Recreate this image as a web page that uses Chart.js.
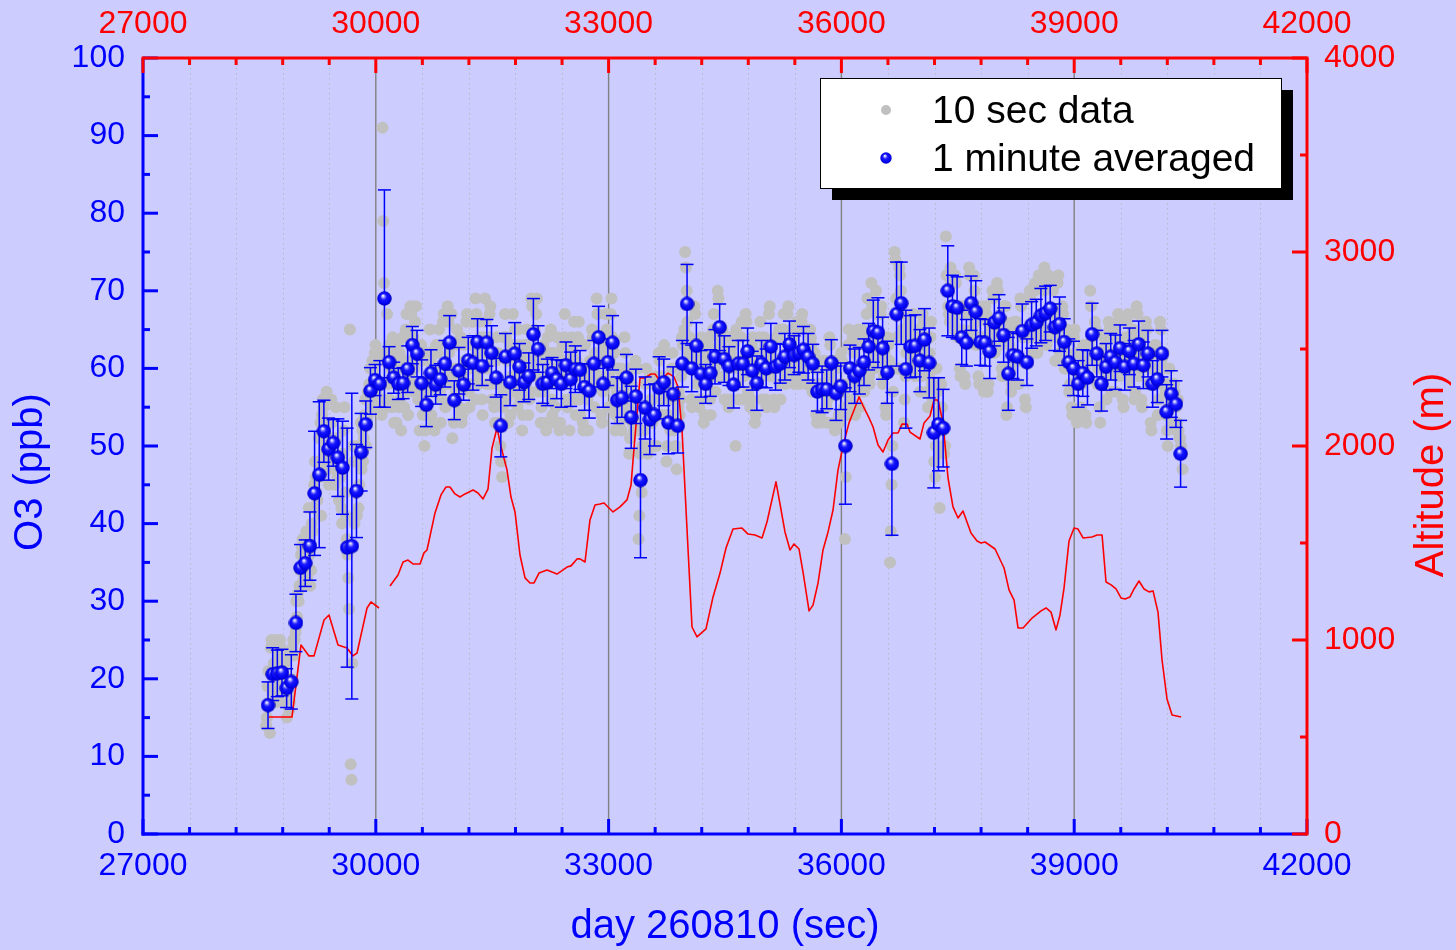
<!DOCTYPE html>
<html>
<head>
<meta charset="utf-8">
<script src="https://cdn.jsdelivr.net/npm/chart.js@4.4.1/dist/chart.umd.min.js"></script>
<style>
html,body{margin:0;padding:0;background:#ccccff;}
#wrap{width:1456px;height:950px;}
</style>
</head>
<body>
<div id="wrap"><canvas id="c" width="1456" height="950"></canvas></div>
<script>
// ---------------- data ----------------
const minuteStart = 28611;   // time (s) of first 1-minute average
const minuteStep = 60;       // s
const tenSecStep = 10;       // s

// 1 minute averaged O3 (ppb)
const o3Minute = [
16.6,20.6,20.7,20.8,18.8,19.6,27.2,34.3,34.9,37.1,
43.9,46.3,51.9,49.6,50.4,48.5,47.2,36.9,37.1,44.2,
49.2,52.8,57.1,58.5,58.0,69.0,60.8,58.8,58.0,58.1,
59.9,63.0,61.9,58.1,55.3,59.4,57.9,58.6,60.6,63.3,
55.9,59.7,57.9,61.0,60.7,63.4,60.3,63.3,62.0,58.8,
52.6,61.5,58.2,61.9,60.2,58.2,59.0,64.4,62.5,58.0,
58.2,59.4,58.6,58.0,60.4,58.6,59.9,59.8,57.6,57.1,
60.6,64.0,58.0,60.8,63.3,55.9,56.2,58.8,53.7,56.4,
45.6,54.9,53.4,54.0,57.5,58.2,53.0,56.7,52.6,60.6,
68.3,60.0,62.9,59.3,58.0,59.4,61.5,65.3,61.2,60.3,
57.9,60.6,60.6,62.2,59.7,58.1,60.6,60.0,62.8,60.2,
60.6,61.5,63.1,61.7,62.0,62.4,61.5,60.6,57.0,57.3,
57.3,60.7,56.8,57.7,50.0,60.0,59.0,59.7,60.8,62.8,
64.8,64.6,62.6,59.5,47.7,67.0,68.4,59.9,62.8,62.9,
61.0,63.7,60.7,51.7,52.8,52.3,70.0,68.0,67.8,64.0,
63.3,68.4,67.3,63.4,63.3,62.2,65.9,66.5,64.3,59.3,
61.7,61.5,64.8,60.8,65.6,65.9,66.8,67.1,67.7,65.3,
65.7,63.4,60.8,60.0,58.0,59.4,58.8,64.4,61.9,58.0,
60.2,61.5,60.8,62.6,60.2,62.2,60.6,63.1,60.4,61.9,
58.0,58.6,61.9,54.4,56.7,55.4,49.0
];

// standard deviation of each 1 minute average (ppb)
const o3MinuteErr = [
3,3.4,3,3,2.5,3.5,3.7,3,3,4.4,
8,9.4,4,4,3,5,6,15.4,19.7,6,
5,3,3,2,3,14,2,2,2,2,
3,2.4,3,3,2.8,3,2.5,2,3,3.5,
2.5,3,2,3,3.5,3,2.5,3,3.5,2.5,
4,3,3,4,3,2.5,3,4.6,3,2.5,
3,2,2.5,3,3,3.5,3,2.5,3,3.5,
3,4,3,3,3.5,3,2.5,3,4,3.5,
10,4,4.5,4,4,3,4,3.5,3.5,3,
5.1,3,3,3,2.5,3,3.5,3,3,2.5,
3,3,3,3,2.5,3.5,3,2.5,3,3,
2.5,3,3,2.5,2.5,3,3,2.5,2.5,3,
2.5,3,3.5,3,7.5,3,3.5,3,3,3,
4,4.5,4,4,9.2,6.7,5.3,7.6,4,4,
4,4,4.5,7.1,6,5,5.8,4,4,3.5,
3,3.5,4,3,3,3.5,3,3,3.5,4.7,
3,3,3.5,3,3,3,3.5,3.5,3,3,
3.5,3,3,3.5,3,3,3.5,4,3,3.5,
3,3,3.5,3,3,3,3,3,3,3,
3,3,3,3.5,3,3,4.3
];

// 10 sec O3 data (ppb), six samples per minute
const tenSecO3 = [
14,15,19,21,17,13, 24,25,18,17,22,19, 25,24,17,18,23,19, 25,24,22,17,18,20, 22,23,17,15,19,18,
16,17,20,23,24,25, 23,25,26,30,28,31, 30,32,34,36,37,38, 32,33,35,37,39,33, 38,42,36,32,34,40,
39,42,45,48,46,44, 43,48,51,46,53,41, 54,56,55,49,47,50, 57,53,47,45,50,48, 56,53,51,48,47,45,
55,51,46,48,43,47, 46,42,40,49,52,55, 44,41,38,36,33,29, 65,9,7,22,50,48, 40,44,48,41,50,42,
45,50,53,47,52,48, 51,54,56,50,53,57, 54,58,60,56,55,61, 56,60,62,63,57,55, 55,61,62,58,56,54,
91,79,71,62,56,55, 67,58,63,56,62,60, 55,64,61,53,60,58, 53,60,63,55,62,56, 52,57,64,60,55,61,
65,67,58,54,57,59, 68,67,61,58,64,60, 66,68,57,63,56,62, 52,56,63,61,54,62, 50,52,54,58,57,61,
62,65,61,54,57,57, 53,52,60,63,58,62, 63,65,57,53,56,58, 66,67,59,55,58,60, 68,66,62,59,58,67,
51,56,53,60,59,57, 65,63,57,55,54,64, 53,54,59,63,61,58, 66,67,61,57,55,60, 63,66,58,66,56,56,
69,67,62,59,58,66, 64,62,56,54,62,64, 69,66,60,58,63,64, 67,68,58,56,62,61, 55,53,61,64,58,62,
56,53,50,48,46,55, 57,64,67,64,56,61, 53,58,63,54,61,59, 67,63,57,65,59,61, 55,65,63,56,60,62,
52,54,60,63,57,63, 65,61,54,56,60,57, 69,68,62,60,65,61, 67,69,59,57,62,61, 53,55,61,63,57,59,
53,52,58,64,61,60, 62,65,56,54,59,62, 53,55,60,64,62,58, 52,53,58,61,63,61, 64,67,59,56,55,61,
56,52,59,62,64,62, 63,66,56,54,61,60, 64,66,56,54,59,60, 53,52,58,63,60,59, 56,52,57,61,58,59,
65,64,60,55,62,58, 69,67,64,61,59,62, 54,53,57,62,63,59, 67,65,58,55,59,61, 67,69,64,60,58,62,
52,54,57,60,56,55, 53,60,52,59,56,57, 64,62,58,55,54,60, 49,51,55,58,53,56, 52,60,61,53,52,60,
38,41,49,52,44,50, 50,52,55,58,60,55, 49,50,54,59,56,53, 53,50,58,59,54,50, 54,58,62,61,54,56,
54,59,62,63,57,54, 48,50,54,58,56,52, 53,60,62,57,52,56, 50,47,53,55,57,54, 56,59,64,63,60,65,
75,73,70,66,64,62, 64,63,56,55,61,61, 68,67,61,58,62,62, 55,56,63,64,59,59, 53,54,61,62,58,60,
63,64,56,54,59,60, 65,67,60,57,62,59, 70,69,64,61,65,63, 65,64,59,56,61,62, 64,56,55,61,64,62,
56,58,61,63,60,50, 65,64,58,56,61,61, 64,66,59,56,59,61, 67,66,60,57,62,61, 55,56,63,64,60,60,
53,54,61,62,59,60, 64,66,59,56,59,61, 64,63,56,55,60,62, 67,68,62,59,61,61, 56,55,61,64,64,61,
64,65,58,56,61,61, 65,67,60,58,59,61, 67,68,63,60,59,62, 65,64,59,58,62,62, 66,65,60,58,62,61,
66,67,61,59,60,62, 58,62,65,61,58,65, 64,63,57,58,60,62, 60,54,53,57,60,58, 54,53,58,61,57,61,
61,60,55,53,56,59, 64,63,59,57,61,61, 53,52,57,60,61,58, 54,53,58,62,61,58, 57,55,38,46,50,54,
63,65,58,56,60,58, 64,62,55,54,59,60, 63,65,57,55,58,60, 65,64,58,57,60,61, 67,69,63,59,58,61,
71,68,65,62,60,62, 70,67,64,61,62,63, 67,68,62,58,59,62, 55,54,60,64,63,61, 35,39,45,50,57,60,
75,74,69,64,60,60, 73,72,70,67,65,64, 53,56,59,62,64,65, 66,65,62,60,61,63, 67,65,62,59,63,62,
65,64,60,57,59,61, 67,66,63,61,61,64, 57,55,59,62,64,66, 58,56,52,48,46,50, 60,57,54,49,42,53,
58,55,52,50,49,50, 77,72,70,68,67,66, 73,71,67,66,66,65, 72,71,68,64,67,65, 60,59,65,68,64,67,
59,58,64,67,68,64, 73,72,68,64,65,68, 72,70,66,63,67,66, 59,58,64,67,68,64, 58,57,64,68,67,66,
57,58,63,66,64,65, 70,69,65,62,66,65, 71,70,66,63,66,64, 60,59,65,68,66,68, 54,55,60,64,63,60,
57,58,62,65,66,62, 65,66,61,58,58,61, 69,68,64,61,64,65, 56,55,61,65,64,64, 70,69,65,62,64,64,
70,71,66,62,62,65, 72,71,66,63,65,64, 70,73,67,64,63,64, 72,71,67,64,65,67, 70,71,65,61,61,64,
71,72,66,62,61,62, 68,67,63,60,60,62, 65,64,60,57,58,61, 55,54,60,64,65,62, 54,53,58,62,59,62,
55,58,60,63,61,60, 54,53,59,63,63,61, 70,68,64,62,61,62, 66,65,61,58,60,62, 55,53,58,60,61,61,
64,63,59,56,60,61, 66,65,60,57,61,62, 64,65,60,57,59,60, 67,66,62,59,60,63, 56,55,61,64,61,63,
66,67,62,58,59,61, 64,65,60,56,57,62, 68,67,63,59,60,62, 56,55,61,64,61,65, 66,65,61,58,60,62,
53,52,58,62,60,63, 62,63,58,54,56,60, 66,65,61,58,60,62, 58,57,54,52,50,55, 60,58,56,53,57,58,
58,57,55,52,53,56, 52,51,51,50,49,47
];

// Altitude (m) along the flight; null = data gap
const altTime = [
28624,28920,29036,29139,29204,29333,29397,29513,29629,29706,
29758,29887,29938,30041,30110,30183,30286,30351,30415,30479,
30570,30621,30660,30763,30840,30905,30956,31021,31085,31150,
31253,31317,31382,31446,31498,31562,31614,31691,31742,31794,
31858,31923,31987,32039,32103,32206,32335,32464,32516,32593,
32632,32696,32760,32825,32889,32941,33057,33147,33237,33289,
33340,33405,33469,33547,33598,33663,33766,33843,33895,33946,
34011,34075,34139,34255,34346,34436,34513,34603,34719,34797,
34887,34977,35041,35157,35209,35273,35338,35389,35454,35505,
35583,35634,35699,35763,35828,35892,35956,36021,36098,36163,
36227,36292,36356,36408,36472,36536,36601,36665,36730,36781,
36846,36884,37013,37065,37142,37194,37245,37310,37374,37438,
37503,37567,37670,37748,37799,37851,37980,38096,38160,38225,
38276,38341,38457,38573,38637,38701,38766,38817,38869,38933,
38998,39049,39114,39230,39294,39359,39410,39475,39539,39603,
39655,39719,39771,39835,39900,39964,40016,40080,40132,40196,
40261,40377
];
const altValue = [
603,603,974,918,918,1103,1129,974,959,918,
933,1165,1196,1165,null,1278,1335,1402,1412,1392,
1392,1449,1464,1655,1748,1789,1789,1753,1737,1753,
1773,1758,1727,1778,1990,2093,1995,1876,1737,1660,
1438,1320,1294,1294,1345,1361,1340,1376,1382,1418,
1418,1402,1619,1696,1701,1706,1660,1686,1722,1799,
2047,2351,2351,2371,2371,2335,2376,2356,2304,2083,
1567,1067,1016,1057,1222,1345,1474,1572,1577,1546,
1541,1526,1608,1815,1701,1557,1464,1495,1469,1351,
1150,1180,1294,1464,1557,1670,1876,2000,2119,2186,
2253,2196,2145,2098,2005,1969,2031,2067,2067,2113,
2113,2072,2036,2119,2155,2237,2237,2119,1835,1686,
1629,1665,1552,1510,1500,1505,1469,1371,1258,1206,
1062,1062,1113,1150,1165,1144,1052,1129,1268,1510,
1577,1572,1526,1531,1541,1541,1299,1284,1263,1217,
1211,1222,1263,1304,1263,1248,1253,1144,897,696,
613,603
];

// axis ticks
const xMajorTicks = [27000,30000,33000,36000,39000,42000];
const xMinorTicks = [27600,28200,28800,29400,30600,31200,31800,32400,33600,34200,34800,35400,36600,37200,37800,38400,39600,40200,40800,41400];
const yMajorTicks = [0,10,20,30,40,50,60,70,80,90,100];
const yMinorTicks = [5,15,25,35,45,55,65,75,85,95];
const y2MajorTicks = [0,1000,2000,3000,4000];
const y2MinorTicks = [500,1500,2500,3500];

const labels = {
  tenSec: '10 sec data',
  minute: '1 minute averaged',
  xTitle: 'day 260810 (sec)',
  yTitle: 'O3 (ppb)',
  y2Title: 'Altitude (m)'
};

// ---------------- build ----------------
const BLUE = '#0000ff', RED = '#ff0000', GREY = '#c0c0c0';
const FONT = '"Liberation Sans", Arial, Helvetica, sans-serif';
Chart.defaults.font.family = FONT;

const minuteData = o3Minute.map((v, i) => ({x: minuteStart + i * minuteStep, y: v}));
const tenSecData = tenSecO3.map((v, j) => ({
  x: minuteStart + Math.floor(j / 6) * minuteStep - 25 + (j % 6) * tenSecStep, y: v}));
const altData = altTime.map((t, i) => ({x: t, y: altValue[i]}));

function makeBall(d) {
  const c = document.createElement('canvas');
  c.width = d; c.height = d;
  const g = c.getContext('2d');
  const r = d / 2;
  const grad = g.createRadialGradient(r * 0.8, r * 0.62, r * 0.05, r, r, r);
  grad.addColorStop(0, '#ffffff');
  grad.addColorStop(0.16, '#9a9aff');
  grad.addColorStop(0.38, '#1a1aff');
  grad.addColorStop(0.8, '#0000ee');
  grad.addColorStop(1, '#0000a8');
  g.fillStyle = grad;
  g.beginPath(); g.arc(r, r, r - 0.3, 0, Math.PI * 2); g.fill();
  return c;
}
const ball = makeBall(15);
const smallBall = makeBall(12);

function seg(ctx, x1, y1, x2, y2) { ctx.beginPath(); ctx.moveTo(x1, y1); ctx.lineTo(x2, y2); ctx.stroke(); }

const bgPlugin = {
  id: 'bg',
  beforeDraw(chart) {
    const c = chart.ctx; c.save(); c.fillStyle = '#ccccff'; c.fillRect(0, 0, chart.width, chart.height); c.restore();
  }
};

const gridPlugin = {
  id: 'gridlines',
  beforeDatasetsDraw(chart) {
    const {ctx, chartArea: a, scales: {x}} = chart;
    ctx.save();
    ctx.strokeStyle = '#b8b8c4'; ctx.lineWidth = 1; ctx.setLineDash([1.5, 3.5]);
    xMinorTicks.forEach(v => { const p = Math.round(x.getPixelForValue(v)) + 0.5; seg(ctx, p, a.top, p, a.bottom); });
    ctx.setLineDash([]); ctx.strokeStyle = '#808080'; ctx.lineWidth = 1.4;
    xMajorTicks.forEach(v => { if (v <= x.min || v >= x.max) return; const p = x.getPixelForValue(v); seg(ctx, p, a.top, p, a.bottom); });
    ctx.restore();
  }
};

const errPlugin = {
  id: 'errbars',
  beforeDatasetDraw(chart, args) {
    if (args.index !== 2) return;
    const {ctx, scales: {x, y}} = chart;
    ctx.save();
    ctx.strokeStyle = BLUE; ctx.lineWidth = 1.5;
    o3Minute.forEach((v, i) => {
      const px = x.getPixelForValue(minuteStart + i * minuteStep);
      const yt = y.getPixelForValue(v + o3MinuteErr[i]);
      const yb = y.getPixelForValue(v - o3MinuteErr[i]);
      seg(ctx, px, yt, px, yb);
      seg(ctx, px - 6.5, yt, px + 6.5, yt);
      seg(ctx, px - 6.5, yb, px + 6.5, yb);
    });
    ctx.restore();
  }
};

const framePlugin = {
  id: 'frame',
  afterDraw(chart) {
    const {ctx, chartArea: a, scales: {x, x2, y, y2}} = chart;
    ctx.save();
    ctx.lineCap = 'butt';
    ctx.lineWidth = 3;
    // blue (bottom / left)
    ctx.strokeStyle = BLUE;
    seg(ctx, a.left, a.top, a.left, a.bottom + 1.5);
    seg(ctx, a.left - 1.5, a.bottom, a.right, a.bottom);
    xMajorTicks.forEach(v => { const p = x.getPixelForValue(v); seg(ctx, p, a.bottom, p, a.bottom - 15); });
    xMinorTicks.forEach(v => { const p = x.getPixelForValue(v); seg(ctx, p, a.bottom, p, a.bottom - 7); });
    yMajorTicks.forEach(v => { const p = y.getPixelForValue(v); seg(ctx, a.left, p, a.left + 15, p); });
    yMinorTicks.forEach(v => { const p = y.getPixelForValue(v); seg(ctx, a.left, p, a.left + 7, p); });
    // red (top / right)
    ctx.strokeStyle = RED;
    seg(ctx, a.left - 1.5, a.top, a.right + 1.5, a.top);
    seg(ctx, a.right, a.top, a.right, a.bottom + 1.5);
    xMajorTicks.forEach(v => { const p = x2.getPixelForValue(v); seg(ctx, p, a.top, p, a.top + 15); });
    xMinorTicks.forEach(v => { const p = x2.getPixelForValue(v); seg(ctx, p, a.top, p, a.top + 7); });
    y2MajorTicks.forEach(v => { const p = y2.getPixelForValue(v); seg(ctx, a.right, p, a.right - 15, p); });
    y2MinorTicks.forEach(v => { const p = y2.getPixelForValue(v); seg(ctx, a.right, p, a.right - 7, p); });

    // vertical axis titles
    ctx.font = '40px ' + FONT;
    ctx.textAlign = 'center'; ctx.textBaseline = 'alphabetic';
    ctx.fillStyle = BLUE;
    ctx.save(); ctx.translate(42, 472); ctx.rotate(-Math.PI / 2); ctx.fillText(labels.yTitle, 0, 0); ctx.restore();
    ctx.fillStyle = RED;
    ctx.save(); ctx.translate(1443, 475); ctx.rotate(-Math.PI / 2); ctx.fillText(labels.y2Title, 0, 0); ctx.restore();

    // legend
    const L = 820, T = 78, W = 461, H = 110;
    ctx.fillStyle = '#000000'; ctx.fillRect(L + 12, T + 12, W, H);
    ctx.fillStyle = '#ffffff'; ctx.fillRect(L, T, W, H);
    ctx.strokeStyle = '#000000'; ctx.lineWidth = 1; ctx.strokeRect(L + 0.5, T + 0.5, W, H);
    ctx.fillStyle = GREY; ctx.beginPath(); ctx.arc(L + 66, T + 32, 5, 0, Math.PI * 2); ctx.fill();
    ctx.drawImage(smallBall, L + 66 - 6, T + 80 - 6);
    ctx.fillStyle = '#000000'; ctx.textAlign = 'left'; ctx.textBaseline = 'alphabetic';
    ctx.font = '39px ' + FONT;
    ctx.fillText(chart.data.datasets[0].label, L + 112, T + 45);
    ctx.fillText(chart.data.datasets[2].label, L + 112, T + 93);
    ctx.restore();
  }
};

const tickFont = {family: FONT, size: 32};
const numLabel = v => String(v);

new Chart(document.getElementById('c'), {
  type: 'scatter',
  data: {
    datasets: [
      { label: labels.tenSec, data: tenSecData, xAxisID: 'x', yAxisID: 'y', order: 3,
        pointRadius: 6, pointBackgroundColor: GREY, pointBorderWidth: 0, showLine: false },
      { label: 'Altitude', data: altData, xAxisID: 'x', yAxisID: 'y2', order: 2,
        showLine: true, pointRadius: 0, borderColor: RED, borderWidth: 1.6, spanGaps: false,
        tension: 0, borderJoinStyle: 'round', fill: false },
      { label: labels.minute, data: minuteData, xAxisID: 'x', yAxisID: 'y', order: 1,
        pointStyle: ball, pointRadius: 7.5, showLine: false }
    ]
  },
  options: {
    responsive: false,
    devicePixelRatio: 1,
    animation: false,
    events: [],
    layout: { padding: 0 },
    plugins: { legend: { display: false }, tooltip: { enabled: false } },
    scales: {
      x: { type: 'linear', position: 'bottom', min: 27000, max: 42000,
        ticks: { stepSize: 3000, color: BLUE, font: tickFont, padding: 13, maxRotation: 0, autoSkip: false, callback: numLabel },
        grid: { display: false, drawTicks: false }, border: { display: false },
        title: { display: true, text: labels.xTitle, color: BLUE, font: {family: FONT, size: 40, lineHeight: 1}, padding: {top: 0, bottom: 3} },
        afterFit: s => { s.height = 116; } },
      x2: { type: 'linear', axis: 'x', position: 'top', min: 27000, max: 42000,
        ticks: { stepSize: 3000, color: RED, font: tickFont, padding: 15, maxRotation: 0, autoSkip: false, callback: numLabel },
        grid: { display: false, drawTicks: false }, border: { display: false },
        afterFit: s => { s.height = 58; } },
      y: { type: 'linear', position: 'left', min: 0, max: 100,
        ticks: { stepSize: 10, color: BLUE, font: tickFont, padding: 18, callback: numLabel },
        grid: { display: false, drawTicks: false }, border: { display: false },
        afterFit: s => { s.width = 143; } },
      y2: { type: 'linear', position: 'right', min: 0, max: 4000,
        ticks: { stepSize: 1000, color: RED, font: tickFont, padding: 17, callback: numLabel },
        grid: { display: false, drawTicks: false }, border: { display: false },
        afterFit: s => { s.width = 149; } }
    }
  },
  plugins: [bgPlugin, gridPlugin, errPlugin, framePlugin]
});
</script>
</body>
</html>
